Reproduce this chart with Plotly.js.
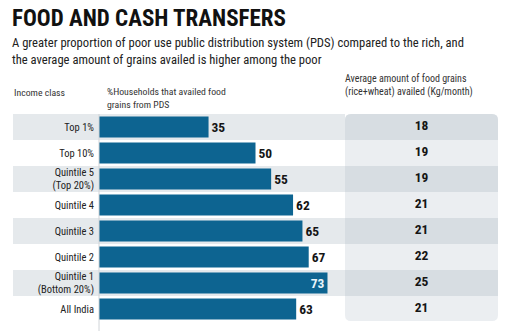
<!DOCTYPE html>
<html>
<head>
<meta charset="utf-8">
<script src="https://cdn.plot.ly/plotly-3.0.1.min.js"></script>
<style>html,body{margin:0;padding:0;background:#fff;}#chart{width:514px;height:332px;}</style>
</head>
<body>
<div id="chart"></div>
<script>
// ---- data ----
const categories = ['Top 1%', 'Top 10%', 'Quintile 5<br>(Top 20%)', 'Quintile 4', 'Quintile 3', 'Quintile 2', 'Quintile 1<br>(Bottom 20%)', 'All India'];
const pdsShare = [35, 50, 55, 62, 65, 67, 73, 63];          // % households that availed food grains from PDS
const grainsKg = [18, 19, 19, 21, 21, 22, 25, 21];          // avg food grains availed (kg/month)
const titleText = 'FOOD AND CASH TRANSFERS';
const subtitleLines = ['A greater proportion of poor use public distribution system (PDS) compared to the rich, and', 'the average amount of grains availed is higher among the poor'];
const headerIncome = 'Income class';
const headerPds = ['%Households that availed food', 'grains from PDS'];
const headerGrains = ['Average amount of food grains', '(rice+wheat) availed (Kg/month)'];

// ---- layout helpers (pixel -> paper) ----
const W = 514, H = 332;
const px = x => x / W;
const py = y => 1 - y / H;
const FONT = 'Roboto Condensed, DejaVu Sans Condensed, sans-serif';
const rowTop = 114, rowBot = 322, nRows = categories.length, pitch = (rowBot - rowTop) / nRows;
const panelL = 345, panelR = 498, rad = 6;
const barColor = '#0d6491';

const maxV = Math.max(...pdsShare);
const barTrace = {
  type: 'bar', orientation: 'h',
  x: pdsShare, y: categories,
  xaxis: 'x', yaxis: 'y',
  width: 0.8,
  marker: {color: barColor, line: {width: 0}},
  text: pdsShare.map(String),
  textposition: pdsShare.map(v => v === maxV ? 'inside' : 'outside'),
  insidetextanchor: 'end',
  textangle: 0,
  constraintext: 'none',
  cliponaxis: false,
  insidetextfont: {family: FONT, size: 13.5, color: '#e8f4fa', weight: 700},
  outsidetextfont: {family: FONT, size: 13.5, color: '#151515', weight: 700},
  hoverinfo: 'none'
};
const grainTrace = {
  type: 'scatter', mode: 'text',
  x: grainsKg.map(() => 0), y: categories,
  xaxis: 'x2', yaxis: 'y',
  text: grainsKg.map(String),
  textposition: 'middle center',
  textfont: {family: FONT, size: 13.5, color: '#151515', weight: 700},
  cliponaxis: false,
  hoverinfo: 'none'
};

// ---- shapes ----
const shapes = [];
for (let i = 0; i < nRows; i += 2) {
  shapes.push({type: 'rect', layer: 'below', xref: 'paper', yref: 'y', x0: px(13), x1: px(panelL), y0: i - 0.5, y1: i + 0.5, fillcolor: '#e5e9ec', line: {width: 0}});
}
function roundRect(l, t, r, b, rt, rb) {
  const rxT = rt / W, ryT = rt / H, rxB = rb / W, ryB = rb / H;
  const L = px(l), R = px(r), T = py(t), B = py(b);
  return `M ${L + rxT},${T} L ${R - rxT},${T} Q ${R},${T} ${R},${T - ryT} L ${R},${B + ryB} Q ${R},${B} ${R - rxB},${B} L ${L + rxB},${B} Q ${L},${B} ${L},${B + ryB} L ${L},${T - ryT} Q ${L},${T} ${L + rxT},${T} Z`;
}
shapes.push({type: 'path', layer: 'below', xref: 'paper', yref: 'paper', path: roundRect(panelL, rowTop, panelR, rowBot - 1, rad, rad), fillcolor: '#ebeef1', line: {width: 0}});
for (let i = 0; i < nRows; i += 2) {
  if (i === 0) {
    shapes.push({type: 'path', layer: 'below', xref: 'paper', yref: 'paper', path: roundRect(panelL, rowTop, panelR, rowTop + pitch, rad, 0.001), fillcolor: '#d7dde2', line: {width: 0}});
  } else {
    shapes.push({type: 'rect', layer: 'below', xref: 'paper', yref: 'y', x0: px(panelL), x1: px(panelR), y0: i - 0.5, y1: i + 0.5, fillcolor: '#d7dde2', line: {width: 0}});
  }
}
shapes.push({type: 'line', layer: 'above', xref: 'paper', yref: 'paper', x0: px(99), x1: px(99), y0: py(rowTop), y1: py(331), line: {color: '#d0d4d8', width: 1}});

// ---- annotations ----
const ann = (x, y, text, size, color, extra) => Object.assign({xref: 'paper', yref: 'paper', x: px(x), y: py(y), xanchor: 'left', yanchor: 'middle', text, showarrow: false, font: {family: FONT, size, color}}, extra || {});
const annotations = [
  ann(10, 18, '<b>' + titleText + '</b>', 23, '#111'),
  ann(10, 42, subtitleLines[0], 12.6, '#222'),
  ann(10, 59, subtitleLines[1], 12.6, '#222'),
  ann(12, 93, headerIncome, 9.75, '#333'),
  ann(105, 91, headerPds[0], 9.75, '#333'),
  ann(105, 104, headerPds[1], 9.75, '#333'),
  ann(343, 79, headerGrains[0], 10, '#333'),
  ann(343, 92, headerGrains[1], 10, '#333')
];

const layout = {
  width: W, height: H,
  margin: {l: 0, r: 0, t: 0, b: 0},
  paper_bgcolor: '#ffffff', plot_bgcolor: 'rgba(0,0,0,0)',
  showlegend: false,
  font: {family: FONT},
  xaxis: {domain: [px(99), px(panelL)], range: [0, (panelL - 99) / 3.13], visible: false, fixedrange: true},
  xaxis2: {domain: [px(panelL), px(panelR)], range: [-1, 1], visible: false, anchor: 'y', fixedrange: true},
  yaxis: {
    domain: [py(rowBot), py(rowTop)],
    type: 'category', categoryorder: 'array', categoryarray: categories,
    range: [nRows - 0.5, -0.5],
    showgrid: false, zeroline: false, showline: false, ticks: '',
    ticklabelstandoff: 4,
    tickfont: {family: FONT, size: 10.5, color: '#222'},
    fixedrange: true
  },
  shapes, annotations
};

Plotly.newPlot('chart', [barTrace, grainTrace], layout, {displayModeBar: false, staticPlot: true});
</script>
</body>
</html>
